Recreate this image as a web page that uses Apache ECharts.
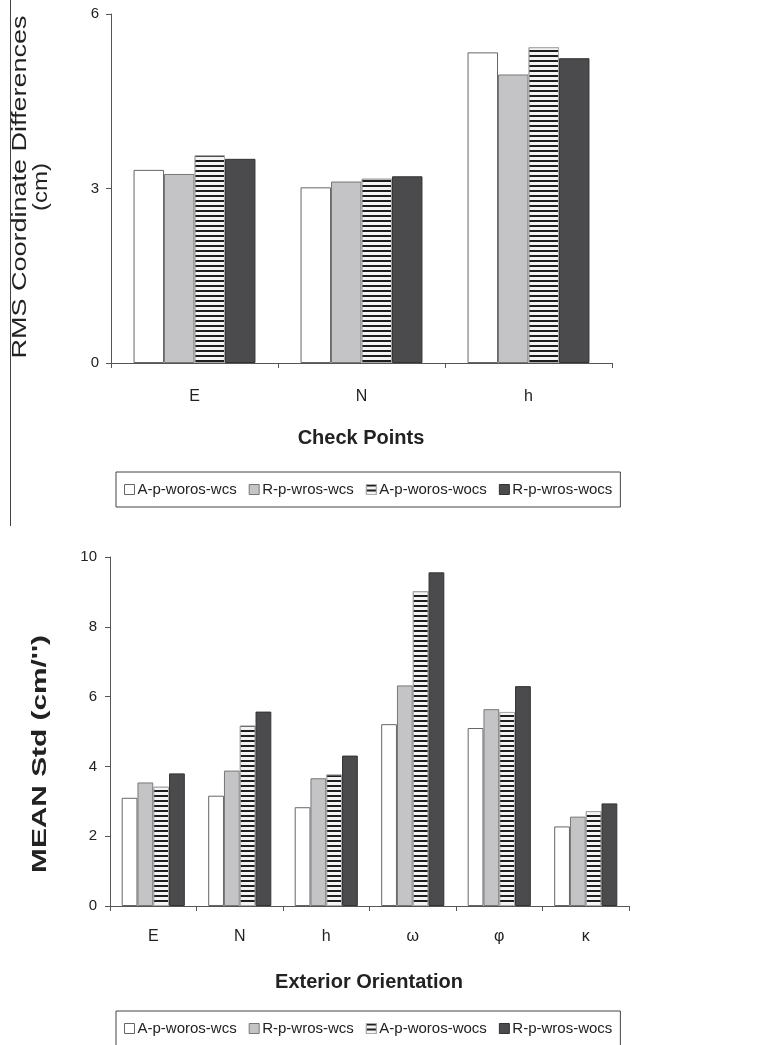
<!DOCTYPE html>
<html><head><meta charset="utf-8">
<script src="https://cdn.jsdelivr.net/npm/echarts@6/dist/echarts.min.js"></script>
<style>html,body{margin:0;padding:0;background:#fff}#c{width:780px;height:1045px}</style>
</head><body><div id="c"></div>
<script>
// ---- data ----
const seriesNames = ['A-p-woros-wcs', 'R-p-wros-wcs', 'A-p-woros-wocs', 'R-p-wros-wocs'];
const topCategories = ['E', 'N', 'h'];
const topApWorosWcs  = [3.32, 3.02, 5.34];
const topRpWrosWcs   = [3.25, 3.12, 4.96];
const topApWorosWocs = [3.57, 3.17, 5.43];
const topRpWrosWocs  = [3.51, 3.21, 5.24];
const topYTicks = [0, 3, 6];

const botCategories = ['E', 'N', 'h', 'ω', 'φ', 'κ'];
const botApWorosWcs  = [3.10, 3.16, 2.83, 5.21, 5.10, 2.28];
const botRpWrosWcs   = [3.54, 3.88, 3.66, 6.32, 5.64, 2.56];
const botApWorosWocs = [3.42, 5.17, 3.77, 9.02, 5.56, 2.72];
const botRpWrosWocs  = [3.80, 5.57, 4.31, 9.56, 6.30, 2.94];
const botYTicks = [0, 2, 4, 6, 8, 10];

const topTitleX = 'Check Points';
const topTitleY1 = 'RMS Coordinate Differences';
const topTitleY2 = '(cm)';
const botTitleX = 'Exterior Orientation';
const botTitleY = "MEAN Std (cm/'')";

// ---- styles ----
const FONT = '"Liberation Sans", Arial, sans-serif';
const TXT = '#222';
const stripeDecal = {symbol: 'rect', symbolSize: 1, dashArrayX: [1, 0], dashArrayY: [1.3, 2.7], rotation: 0, color: '#1e1e1e'};
const styles = [
  {color: '#ffffff', borderColor: '#666', borderWidth: 1},
  {color: '#c4c4c6', borderColor: '#777', borderWidth: 1},
  {color: '#f4f4f4', borderColor: '#aaa', borderWidth: 1, decal: stripeDecal},
  {color: '#4b4b4d', borderColor: '#333', borderWidth: 1}
];
const topData = [topApWorosWcs, topRpWrosWcs, topApWorosWocs, topRpWrosWocs];
const botData = [botApWorosWcs, botRpWrosWcs, botApWorosWocs, botRpWrosWocs];

const axisLineStyle = {show: true, lineStyle: {color: '#555', width: 1}};
function yAxis(gi, max, interval, margin) {
  return {type: 'value', gridIndex: gi, min: 0, max: max, interval: interval,
    axisLine: axisLineStyle, axisTick: {show: true, length: 5, lineStyle: {color: '#555'}},
    splitLine: {show: false},
    axisLabel: {color: TXT, fontFamily: FONT, fontSize: 15, margin: margin}};
}
function xAxis(gi, cats, margin) {
  return {type: 'category', gridIndex: gi, data: cats,
    axisLine: axisLineStyle, axisTick: {show: true, length: 5, lineStyle: {color: '#555'}},
    axisLabel: {color: TXT, fontFamily: FONT, fontSize: 16, margin: margin}};
}

const series = [];
seriesNames.forEach((n, i) => {
  series.push({name: n, type: 'bar', xAxisIndex: 0, yAxisIndex: 0, data: topData[i],
    barGap: '0%', barCategoryGap: '27%', itemStyle: styles[i], emphasis: {disabled: true}});
  series.push({name: n, type: 'bar', xAxisIndex: 1, yAxisIndex: 1, data: botData[i],
    barGap: '0%', barCategoryGap: '27%', itemStyle: styles[i], emphasis: {disabled: true}});
});

function legend(top) {
  return {left: 116, top: top, orient: 'horizontal', icon: 'rect', itemWidth: 10, itemHeight: 10, itemGap: 12,
    padding: [10, 8], borderColor: '#444', borderWidth: 1, selectedMode: false,
    textStyle: {color: TXT, fontFamily: FONT, fontSize: 15, padding: [0, 0, 0, -2]},
    data: seriesNames.map((n, i) => ({name: n, itemStyle: styles[i]}))};
}

function vText(x, y, text, size, weight, sx) {
  return {type: 'text', x: x, y: y, rotation: Math.PI / 2, scaleX: sx, silent: true,
    style: {text: text, fontFamily: FONT, fontSize: size, fontWeight: weight, fill: TXT,
      textAlign: 'center', textVerticalAlign: 'middle'}};
}
function hText(x, y, text, size, weight) {
  return {type: 'text', x: x, y: y, silent: true,
    style: {text: text, fontFamily: FONT, fontSize: size, fontWeight: weight, fill: TXT,
      textAlign: 'center', textVerticalAlign: 'middle'}};
}

const chart = echarts.init(document.getElementById('c'), null, {renderer: 'canvas'});
chart.setOption({
  backgroundColor: '#fff',
  animation: false,
  grid: [
    {left: 111, right: 168, top: 14, bottom: 682, containLabel: false},
    {left: 110, right: 151, top: 557, bottom: 139, containLabel: false}
  ],
  xAxis: [xAxis(0, topCategories, 26), xAxis(1, botCategories, 23)],
  yAxis: [yAxis(0, 6, 3, 12), yAxis(1, 10, 2, 13)],
  legend: [legend(472), legend(1011)],
  series: series,
  graphic: [
    {type: 'line', shape: {x1: 10.5, y1: 0, x2: 10.5, y2: 526}, style: {stroke: '#444', lineWidth: 1}, silent: true},
    vText(20, 187, topTitleY1, 20, 'normal', 1.35),
    vText(41, 187, topTitleY2, 20, 'normal', 1.2),
    hText(361, 438, topTitleX, 20, 'bold'),
    vText(40, 754, botTitleY, 21, 'bold', 1.42),
    hText(369, 982, botTitleX, 20, 'bold')
  ]
});
</script></body></html>
